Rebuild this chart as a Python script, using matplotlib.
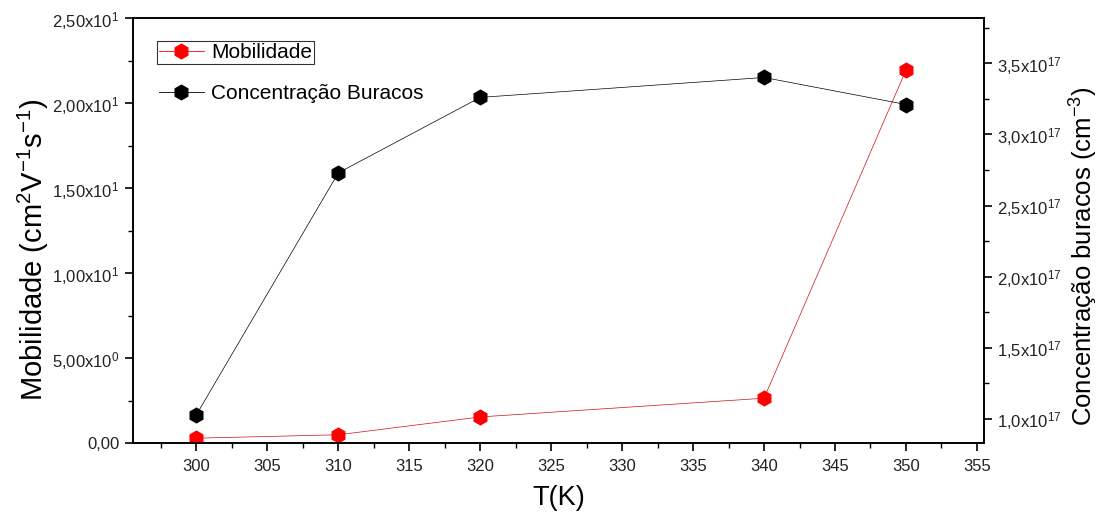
import matplotlib
matplotlib.use("Agg")
import matplotlib.pyplot as plt
from matplotlib.ticker import MultipleLocator, FixedLocator
from matplotlib.lines import Line2D

plt.rcParams['font.family'] = ['Liberation Sans', 'DejaVu Sans']
plt.rcParams['mathtext.fontset'] = 'custom'
plt.rcParams['mathtext.rm'] = 'Liberation Sans'
plt.rcParams['mathtext.it'] = 'Liberation Sans:italic'
plt.rcParams['mathtext.bf'] = 'Liberation Sans:bold'

# Temperature (K)
temperature = [300, 310, 320, 340, 350]
# Hole mobility (cm^2 V^-1 s^-1)
mobility = [0.30, 0.50, 1.55, 2.65, 21.95]
# Hole concentration (cm^-3)
concentration = [1.03e17, 2.73e17, 3.26e17, 3.40e17, 3.21e17]

x_ticks = [300, 305, 310, 315, 320, 325, 330, 335, 340, 345, 350, 355]
left_ticks = [0, 5, 10, 15, 20, 25]
left_tick_labels = ["0,00", r"5,00x10$^{0}$", r"1,00x10$^{1}$", r"1,50x10$^{1}$",
                    r"2,00x10$^{1}$", r"2,50x10$^{1}$"]
right_ticks = [1.0e17, 1.5e17, 2.0e17, 2.5e17, 3.0e17, 3.5e17]
right_tick_labels = [r"1,0x10$^{17}$", r"1,5x10$^{17}$", r"2,0x10$^{17}$",
                     r"2,5x10$^{17}$", r"3,0x10$^{17}$", r"3,5x10$^{17}$"]

fig = plt.figure(figsize=(11.05, 5.17), dpi=100)
ax = fig.add_axes([0.120, 0.1426, 0.7705, 0.822])
ax2 = ax.twinx()

red = '#ff0000'
ax.plot(temperature, mobility, color='#d01010', lw=0.5, marker='h', markersize=10.5,
        markeredgecolor=red, markerfacecolor=red, zorder=3)
ax2.plot(temperature, concentration, color='black', lw=0.5, marker='h', markersize=10.5,
         markeredgecolor='black', markerfacecolor='black', zorder=3)

ax.set_xlim(295.5, 355.5)
ax.set_ylim(0, 25)
ax2.set_ylim(0.829e17, 3.816e17)

ax.xaxis.set_major_locator(FixedLocator(x_ticks))
ax.xaxis.set_minor_locator(MultipleLocator(2.5))
ax.set_xticklabels([str(t) for t in x_ticks])
ax.yaxis.set_major_locator(FixedLocator(left_ticks))
ax.yaxis.set_minor_locator(MultipleLocator(2.5))
ax.set_yticklabels(left_tick_labels)
ax2.yaxis.set_major_locator(FixedLocator(right_ticks))
ax2.yaxis.set_minor_locator(MultipleLocator(0.25e17))
ax2.set_yticklabels(right_tick_labels)

for a in (ax, ax2):
    for s in a.spines.values():
        s.set_linewidth(1.2)
    a.tick_params(which='major', direction='out', length=6, width=1.2, labelsize=12,
                  labelcolor='#222222')
    a.tick_params(which='minor', direction='out', length=3.5, width=1.0)
ax.tick_params(axis='y', which='both', right=False)
ax.tick_params(axis='x', which='both', top=False)
ax.tick_params(axis='x', which='major', pad=5)

ax.set_xlabel("T(K)", fontsize=19.5, labelpad=8)
ax.set_ylabel(r"Mobilidade (cm$^{2}$V$^{-1}$s$^{-1}$)", fontsize=21)
ax.yaxis.set_label_coords(-0.096, 0.455)
ax2.set_ylabel(r"Concentração buracos (cm$^{-3}$)", fontsize=18.5)
ax2.yaxis.set_label_coords(1.098, 0.44)

h1 = Line2D([], [], color=red, lw=0.6, marker='h', markersize=10.5,
            markerfacecolor=red, markeredgecolor=red)
h2 = Line2D([], [], color='black', lw=0.6, marker='h', markersize=10.5,
            markerfacecolor='black', markeredgecolor='black')
leg1 = fig.legend([h1], ["Mobilidade"], loc='upper left',
                  bbox_to_anchor=(157 / 1105, 1 - 41 / 517), fontsize=15,
                  frameon=True, fancybox=False, edgecolor='black',
                  borderpad=0.1, handlelength=2.15, handletextpad=0.35,
                  borderaxespad=0)
leg1.get_frame().set_linewidth(0.8)
leg2 = fig.legend([h2], ["Concentração Buracos"], loc='upper left',
                  bbox_to_anchor=(157 / 1105, 1 - 82 / 517), fontsize=15,
                  frameon=False, borderpad=0.1, handlelength=2.15,
                  handletextpad=0.35, borderaxespad=0)

fig.savefig("out.png", dpi=100)
